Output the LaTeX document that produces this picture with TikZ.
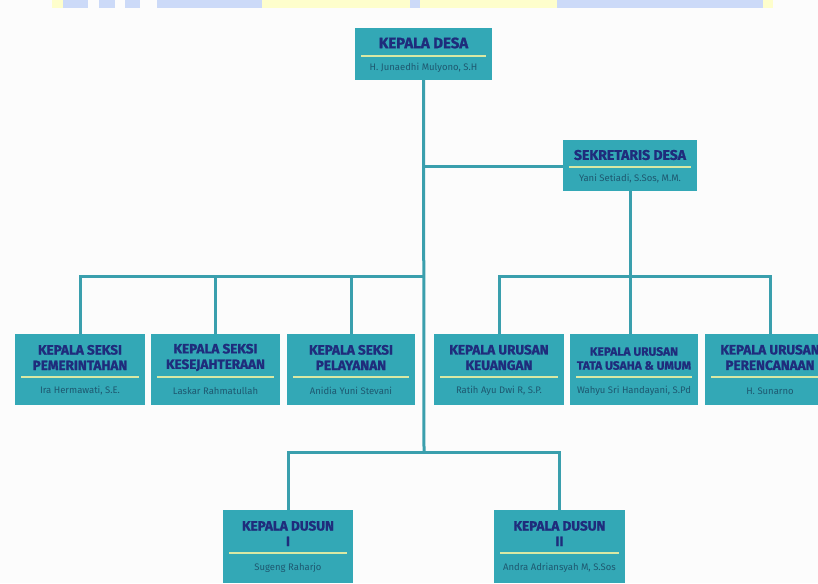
\documentclass[tikz,border=0pt]{standalone}
\usepackage{fontspec}
\setmainfont{Fira Sans}[BoldFeatures={FakeBold=1.2}]
\usetikzlibrary{calc}
\definecolor{boxfill}{HTML}{33A8B6}
\definecolor{linec}{HTML}{3A9FAD}
\definecolor{titlec}{HTML}{1F2C7C}
\definecolor{namec}{HTML}{1E5870}
\definecolor{sepc}{HTML}{D9E8A4}
\definecolor{topblue}{HTML}{CCDAF8}
\definecolor{topyellow}{HTML}{FEFECC}
\definecolor{bgc}{HTML}{FCFCFC}
\tikzset{
  orgbox/.style={fill=boxfill, draw=none, rectangle, inner sep=0pt},
  ttl/.style={text=titlec, font=\bfseries\fontsize{13.5}{15.5}\selectfont, align=center, inner sep=0pt},
  nm/.style={text=namec, font=\fontsize{9.5}{11}\selectfont, inner sep=0pt},
  sepline/.style={draw=sepc, line width=1.6pt},
  conn/.style={draw=linec, line width=3pt},
}
\newcommand{\orgunit}[9]{%
  \node[orgbox, minimum width={#4-#2}, minimum height={#5-#3}] (#1) at ({(#2+#4)/2},{(#3+#5)/2}) {};
  \node[ttl] (#1-t) at ({(#2+#4)/2},#6) {#8};
  \coordinate (#1-sl) at ({#2+6},#7);
  \coordinate (#1-sr) at ({#4-6},#7);
  \draw[sepline] (#1-sl) -- (#1-sr);
  \node[nm] (#1-n) at ({(#2+#4)/2},{(#7+#5)/2}) {#9};
}
\newcommand{\smallttl}{\fontsize{12}{14}\selectfont}
\begin{document}
\begin{tikzpicture}[x=1pt,y=-1pt]
\useasboundingbox (0,0) rectangle (818,583);
\clip (0,0) rectangle (818,583);
\fill[bgc] (0,0) rectangle (818,583);
% top strip
\fill[topyellow] (52,0) rectangle (63,8);
\fill[topblue] (63,0) rectangle (88,8);
\fill[topblue] (99,0) rectangle (115,8);
\fill[topblue] (125,0) rectangle (140,8);
\fill[topblue] (157,0) rectangle (262,8);
\fill[topyellow] (262,0) rectangle (410,8);
\fill[topblue] (410,0) rectangle (420,8);
\fill[topyellow] (420,0) rectangle (557,8);
\fill[topblue] (557,0) rectangle (763,8);
\fill[topyellow] (763,0) rectangle (773,8);

% junctions
\coordinate (tl) at (424,276);
\coordinate (ts) at (424,166);
\coordinate (jd) at (424,452);
\coordinate (rb) at (630,276);

\orgunit{kd}{355}{28}{492}{80}{43}{56}{\fontsize{15}{17}\selectfont KEPALA DESA}{H. Junaedhi Mulyono, S.H}
\orgunit{sk}{563}{140}{697}{191}{155}{167}{\fontsize{14}{16}\selectfont SEKRETARIS DESA}{Yani Setiadi, S.Sos, M.M.}
\orgunit{k1}{15}{334}{145}{405}{357.5}{377}{KEPALA SEKSI\\PEMERINTAHAN}{Ira Hermawati, S.E.}
\orgunit{k2}{151}{334}{280}{405}{357.5}{377}{KEPALA SEKSI\\KESEJAHTERAAN}{Laskar Rahmatullah}
\orgunit{k3}{287}{334}{415}{405}{357.5}{377}{KEPALA SEKSI\\PELAYANAN}{Anidia Yuni Stevani}
\orgunit{k4}{434}{334}{564}{405}{357.5}{377}{KEPALA URUSAN\\KEUANGAN}{Ratih Ayu Dwi R, S.P.}
\orgunit{k5}{570}{334}{698}{405}{358.5}{377}{\smallttl KEPALA URUSAN\\[-1.5pt]\smallttl TATA USAHA \& UMUM}{Wahyu Sri Handayani, S.Pd}
\orgunit{k6}{705}{334}{835}{405}{357.5}{377}{KEPALA URUSAN\\PERENCANAAN}{H. Sunarno}
\orgunit{d1}{223}{510}{353}{583}{533.5}{553}{KEPALA DUSUN\\I}{Sugeng Raharjo}
\orgunit{d2}{494}{510}{625}{583}{533.5}{553}{KEPALA DUSUN\\II}{Andra Adriansyah M, S.Sos}

\draw[conn] (kd.south) -- (jd);
\draw[conn] (ts) -- (sk.west |- ts);
\draw[conn] (k1.north) |- (tl);
\draw[conn] (k2.north) -- (k2.north |- tl);
\draw[conn] (k3.north) -- (k3.north |- tl);
\draw[conn] (sk.south) -- (sk.south |- k5.north);
\draw[conn] (k4.north) |- (rb) -| (k6.north);
\draw[conn] (d1.north) |- (jd) -| (d2.north);
\end{tikzpicture}
\end{document}
